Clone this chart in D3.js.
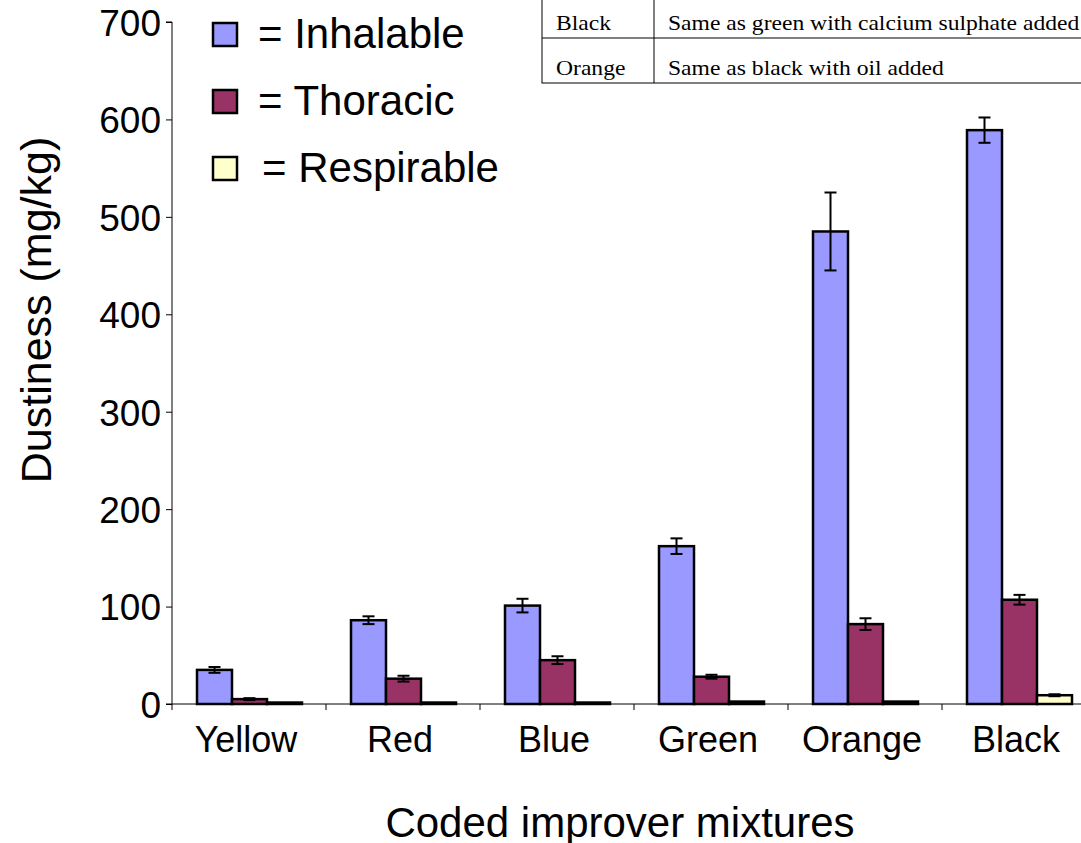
<!DOCTYPE html>
<html>
<head>
<meta charset="utf-8">
<script src="https://cdn.jsdelivr.net/npm/d3@7"></script>
<style>
  body { margin: 0; background: #fff; }
  svg { display: block; font-family: 'Liberation Sans', Arial, sans-serif; }
</style>
</head>
<body>
<svg width="1081" height="843"></svg>
<script>
const mixtures = ['Yellow', 'Red', 'Blue', 'Green', 'Orange', 'Black'];
const seriesNames = ['Inhalable', 'Thoracic', 'Respirable'];
const inhalable = [35, 86, 101, 162, 485, 589];
const inhalableErr = [3, 4, 7, 8, 40, 13];
const thoracic = [5, 26, 45, 28, 82, 107];
const thoracicErr = [1, 3, 4, 2, 6, 5];
const respirable = [1.5, 1.5, 1.5, 2.5, 2.5, 9];
const respirableErr = [0, 0, 0, 0, 0, 1];
const yTicks = [0, 100, 200, 300, 400, 500, 600, 700];
const tableRows = [['Black', 'Same as green with calcium sulphate added'], ['Orange', 'Same as black with oil added']];

const colors = ['#9999ff', '#993366', '#ffffcc'];
const values = [inhalable, thoracic, respirable];
const errs = [inhalableErr, thoracicErr, respirableErr];

const width = 1081;
const height = 843;
const margin = { top: 22, right: -15, bottom: 139, left: 172 };
const innerWidth = width - margin.left - margin.right;
const innerHeight = height - margin.top - margin.bottom;

const svg = d3.select('svg');
const g = svg.append('g')
  .attr('transform', `translate(${margin.left}, ${margin.top})`);

const xScale = d3.scaleBand()
  .domain(mixtures)
  .range([0, innerWidth]);

const xInner = d3.scaleBand()
  .domain(seriesNames)
  .range([25, xScale.bandwidth() - 24]);

const yScale = d3.scaleLinear()
  .domain([0, 700])
  .range([innerHeight, 0]);

// y axis
const yAxis = d3.axisLeft(yScale)
  .tickValues(yTicks)
  .tickSize(6)
  .tickPadding(5);

const yG = g.append('g').call(yAxis);
yG.select('.domain').attr('d', `M-6,0H0V${innerHeight}H-6`).attr('stroke', '#000');
yG.selectAll('text').style('font-size', '37px').attr('fill', '#000').attr('dy', '0.36em');

// x axis with ticks between groups
const xG = g.append('g')
  .attr('transform', `translate(0, ${innerHeight})`);
xG.append('line')
  .attr('x1', 0).attr('x2', innerWidth)
  .attr('stroke', '#000');
xG.selectAll('.sep')
  .data(mixtures)
  .enter()
  .append('line')
  .attr('x1', d => xScale(d)).attr('x2', d => xScale(d))
  .attr('y1', 0).attr('y2', 6)
  .attr('stroke', '#000');
xG.selectAll('.lbl')
  .data(mixtures)
  .enter()
  .append('text')
  .attr('x', d => xScale(d) + xScale.bandwidth() / 2 - 3)
  .attr('y', 48)
  .attr('text-anchor', 'middle')
  .style('font-size', '36px')
  .text(d => d);

// bars
seriesNames.forEach((s, si) => {
  g.selectAll('.bar-' + si)
    .data(mixtures)
    .enter()
    .append('rect')
    .attr('x', d => xScale(d) + xInner(s))
    .attr('y', (d, i) => yScale(values[si][i]))
    .attr('width', xInner.bandwidth())
    .attr('height', (d, i) => innerHeight - yScale(values[si][i]))
    .attr('fill', colors[si])
    .attr('stroke', '#000')
    .attr('stroke-width', 2.5);

  // error bars
  mixtures.forEach((d, i) => {
    const e = errs[si][i];
    if (!e) return;
    const cx = xScale(d) + xInner(s) + xInner.bandwidth() / 2;
    const y1 = yScale(values[si][i] + e);
    const y2 = yScale(values[si][i] - e);
    const eg = g.append('g').attr('stroke', '#000').attr('stroke-width', 2);
    eg.append('line').attr('x1', cx).attr('x2', cx).attr('y1', y1).attr('y2', y2);
    eg.append('line').attr('x1', cx - 6).attr('x2', cx + 6).attr('y1', y1).attr('y2', y1);
    eg.append('line').attr('x1', cx - 6).attr('x2', cx + 6).attr('y1', y2).attr('y2', y2);
  });
});

// axis titles
svg.append('text')
  .attr('transform', 'translate(51, 310) rotate(-90)')
  .attr('text-anchor', 'middle')
  .style('font-size', '43px')
  .text('Dustiness (mg/kg)');

svg.append('text')
  .attr('x', 620)
  .attr('y', 837)
  .attr('text-anchor', 'middle')
  .style('font-size', '42px')
  .text('Coded improver mixtures');

// legend
const legend = svg.append('g').attr('transform', 'translate(213, 23)');
seriesNames.forEach((s, i) => {
  legend.append('rect')
    .attr('x', 0)
    .attr('y', i * 67)
    .attr('width', 24)
    .attr('height', 23)
    .attr('fill', colors[i])
    .attr('stroke', '#000')
    .attr('stroke-width', 2.5);
  legend.append('text')
    .attr('x', i === 2 ? 49 : 45)
    .attr('y', i * 67 + 25)
    .style('font-size', '42px')
    .text('= ' + s);
});

// description table
const table = svg.append('g')
  .attr('transform', 'translate(542, -8)')
  .style('font-family', "'Liberation Serif', 'Times New Roman', serif");
table.append('rect')
  .attr('width', 600).attr('height', 91)
  .attr('fill', '#fff').attr('stroke', '#000').attr('stroke-width', 1);
table.append('line')
  .attr('x1', 0).attr('x2', 600).attr('y1', 46).attr('y2', 46)
  .attr('stroke', '#000');
table.append('line')
  .attr('x1', 112).attr('x2', 112).attr('y1', 0).attr('y2', 91)
  .attr('stroke', '#000');
tableRows.forEach((r, i) => {
  table.append('text')
    .attr('transform', `translate(14, ${38 + i * 45}) scale(1.18, 1)`)
    .style('font-size', '20px').text(r[0]);
  table.append('text')
    .attr('transform', `translate(126, ${38 + i * 45}) scale(1.18, 1)`)
    .style('font-size', '20px').text(r[1]);
});
</script>
</body>
</html>
